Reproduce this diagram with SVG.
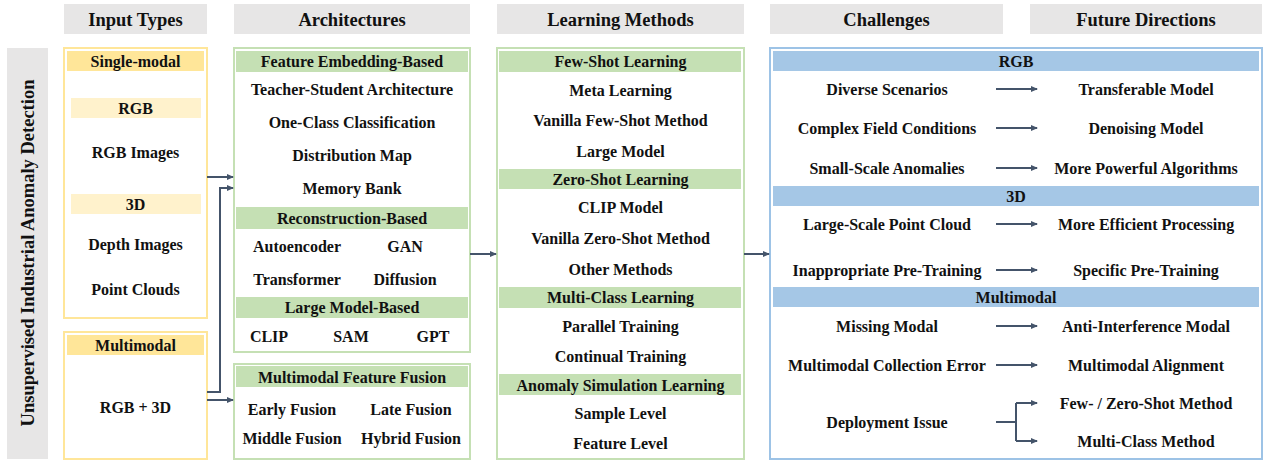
<svg xmlns="http://www.w3.org/2000/svg" width="1269" height="464" viewBox="0 0 1269 464">
<defs>
<marker id="ah" markerWidth="7" markerHeight="7" refX="6" refY="3.5" orient="auto" markerUnits="userSpaceOnUse">
<path d="M0,0.5 L7,3.5 L0,6.5 Z" fill="#44546a"/>
</marker>
</defs>
<style>
text{font-family:"Liberation Serif","Times New Roman",serif;font-weight:bold;fill:#111;text-anchor:middle;dominant-baseline:central;}
.t{font-size:16px;}
.h{font-size:18.5px;}
.gray{fill:#e7e6e6;}
.ybox{fill:#fff;stroke:#ffe699;stroke-width:2;}
.yh{fill:#ffe699;}
.ys{fill:#fff2cc;}
.gbox{fill:#fff;stroke:#c5e0b4;stroke-width:2;}
.gh{fill:#c5e0b4;}
.bbox{fill:#fff;stroke:#9dc3e6;stroke-width:2;}
.bh{fill:#a5c7e6;}
.c{fill:none;stroke:#44546a;stroke-width:2;}
</style>
<rect width="1269" height="464" fill="#fff"/>

<g id="headers">
<rect class="gray" x="64" y="4" width="143" height="30"/>
<text class="h" x="135.5" y="20">Input Types</text>
<rect class="gray" x="234" y="4" width="236" height="30"/>
<text class="h" x="352" y="20">Architectures</text>
<rect class="gray" x="497" y="4" width="247" height="30"/>
<text class="h" x="620.5" y="20">Learning Methods</text>
<rect class="gray" x="770" y="4" width="233" height="30"/>
<text class="h" x="886.5" y="20">Challenges</text>
<rect class="gray" x="1030" y="4" width="232" height="30"/>
<text class="h" x="1146" y="20">Future Directions</text>
</g>

<g id="title">
<rect class="gray" x="7" y="48" width="41" height="411"/>
<text class="h" transform="translate(28,253) rotate(-90)">Unsupervised Industrial Anomaly Detection</text>
</g>

<g id="single-modal">
<rect class="ybox" x="64" y="48" width="143" height="270"/>
<rect class="yh" x="67" y="51" width="137" height="20"/>
<text class="t" x="135.5" y="61">Single-modal</text>
<rect class="ys" x="71" y="98" width="130" height="20"/>
<text class="t" x="135.5" y="108">RGB</text>
<text class="t" x="135.5" y="152">RGB Images</text>
<rect class="ys" x="71" y="194" width="130" height="20"/>
<text class="t" x="135.5" y="204">3D</text>
<text class="t" x="135.5" y="244">Depth Images</text>
<text class="t" x="135.5" y="289">Point Clouds</text>
</g>

<g id="multimodal">
<rect class="ybox" x="64" y="332" width="143" height="127"/>
<rect class="yh" x="67" y="335" width="137" height="20"/>
<text class="t" x="135.5" y="345">Multimodal</text>
<text class="t" x="135.5" y="407">RGB + 3D</text>
</g>

<g id="architectures">
<rect class="gbox" x="234" y="48" width="236" height="304"/>
<rect class="gh" x="236" y="51" width="232" height="21"/>
<text class="t" x="352" y="61">Feature Embedding-Based</text>
<text class="t" x="352" y="89">Teacher-Student Architecture</text>
<text class="t" x="352" y="122">One-Class Classification</text>
<text class="t" x="352" y="155">Distribution Map</text>
<text class="t" x="352" y="188">Memory Bank</text>
<rect class="gh" x="236" y="207" width="232" height="22"/>
<text class="t" x="352" y="218">Reconstruction-Based</text>
<text class="t" x="297" y="246">Autoencoder</text>
<text class="t" x="405" y="246">GAN</text>
<text class="t" x="297" y="279">Transformer</text>
<text class="t" x="405" y="279">Diffusion</text>
<rect class="gh" x="236" y="297" width="232" height="21"/>
<text class="t" x="352" y="307">Large Model-Based</text>
<text class="t" x="269" y="336">CLIP</text>
<text class="t" x="351" y="336">SAM</text>
<text class="t" x="433" y="336">GPT</text>
</g>

<g id="fusion">
<rect class="gbox" x="234" y="364" width="236" height="95"/>
<rect class="gh" x="236" y="366" width="232" height="21"/>
<text class="t" x="352" y="377">Multimodal Feature Fusion</text>
<text class="t" x="292" y="409">Early Fusion</text>
<text class="t" x="411" y="409">Late Fusion</text>
<text class="t" x="292" y="438">Middle Fusion</text>
<text class="t" x="411" y="438">Hybrid Fusion</text>
</g>

<g id="learning">
<rect class="gbox" x="497" y="48" width="247" height="411"/>
<rect class="gh" x="499" y="51" width="242" height="21"/>
<text class="t" x="620.5" y="61">Few-Shot Learning</text>
<text class="t" x="620.5" y="90">Meta Learning</text>
<text class="t" x="620.5" y="120">Vanilla Few-Shot Method</text>
<text class="t" x="620.5" y="151">Large Model</text>
<rect class="gh" x="499" y="169" width="242" height="20"/>
<text class="t" x="620.5" y="179">Zero-Shot Learning</text>
<text class="t" x="620.5" y="207">CLIP Model</text>
<text class="t" x="620.5" y="238">Vanilla Zero-Shot Method</text>
<text class="t" x="620.5" y="269">Other Methods</text>
<rect class="gh" x="499" y="287" width="242" height="21"/>
<text class="t" x="620.5" y="297">Multi-Class Learning</text>
<text class="t" x="620.5" y="326">Parallel Training</text>
<text class="t" x="620.5" y="356">Continual Training</text>
<rect class="gh" x="499" y="374" width="242" height="21"/>
<text class="t" x="620.5" y="385">Anomaly Simulation Learning</text>
<text class="t" x="620.5" y="413">Sample Level</text>
<text class="t" x="620.5" y="443">Feature Level</text>
</g>

<g id="challenges">
<rect class="bbox" x="770" y="48" width="492" height="411"/>
<rect class="bh" x="773" y="51" width="486" height="20"/>
<text class="t" x="1016" y="61">RGB</text>
<text class="t" x="887" y="89">Diverse Scenarios</text>
<text class="t" x="1146" y="89">Transferable Model</text>
<text class="t" x="887" y="128">Complex Field Conditions</text>
<text class="t" x="1146" y="128">Denoising Model</text>
<text class="t" x="887" y="168">Small-Scale Anomalies</text>
<text class="t" x="1146" y="168">More Powerful Algorithms</text>
<rect class="bh" x="773" y="186" width="486" height="20"/>
<text class="t" x="1016" y="196">3D</text>
<text class="t" x="887" y="224">Large-Scale Point Cloud</text>
<text class="t" x="1146" y="224">More Efficient Processing</text>
<text class="t" x="887" y="270">Inappropriate Pre-Training</text>
<text class="t" x="1146" y="270">Specific Pre-Training</text>
<rect class="bh" x="773" y="287" width="486" height="20"/>
<text class="t" x="1016" y="297">Multimodal</text>
<text class="t" x="887" y="326">Missing Modal</text>
<text class="t" x="1146" y="326">Anti-Interference Modal</text>
<text class="t" x="887" y="365">Multimodal Collection Error</text>
<text class="t" x="1146" y="365">Multimodal Alignment</text>
<text class="t" x="887" y="422">Deployment Issue</text>
<text class="t" x="1146" y="403">Few- / Zero-Shot Method</text>
<text class="t" x="1146" y="441">Multi-Class Method</text>
</g>

<g id="connectors">
<path class="c" d="M207,177 H233" marker-end="url(#ah)"/>
<path class="c" d="M207,392 H220 V188 H233" marker-end="url(#ah)"/>
<path class="c" d="M207,400 H233" marker-end="url(#ah)"/>
<path class="c" d="M470,254 H496" marker-end="url(#ah)"/>
<path class="c" d="M744,254 H769" marker-end="url(#ah)"/>
<path class="c" d="M996,89 H1037" marker-end="url(#ah)"/>
<path class="c" d="M996,128 H1037" marker-end="url(#ah)"/>
<path class="c" d="M996,168 H1037" marker-end="url(#ah)"/>
<path class="c" d="M996,224 H1037" marker-end="url(#ah)"/>
<path class="c" d="M996,270 H1037" marker-end="url(#ah)"/>
<path class="c" d="M996,326 H1037" marker-end="url(#ah)"/>
<path class="c" d="M996,365 H1037" marker-end="url(#ah)"/>
<path class="c" d="M996,422 H1016"/>
<path class="c" d="M1016,403 V441"/>
<path class="c" d="M1016,403 H1037" marker-end="url(#ah)"/>
<path class="c" d="M1016,441 H1037" marker-end="url(#ah)"/>
</g>
</svg>
